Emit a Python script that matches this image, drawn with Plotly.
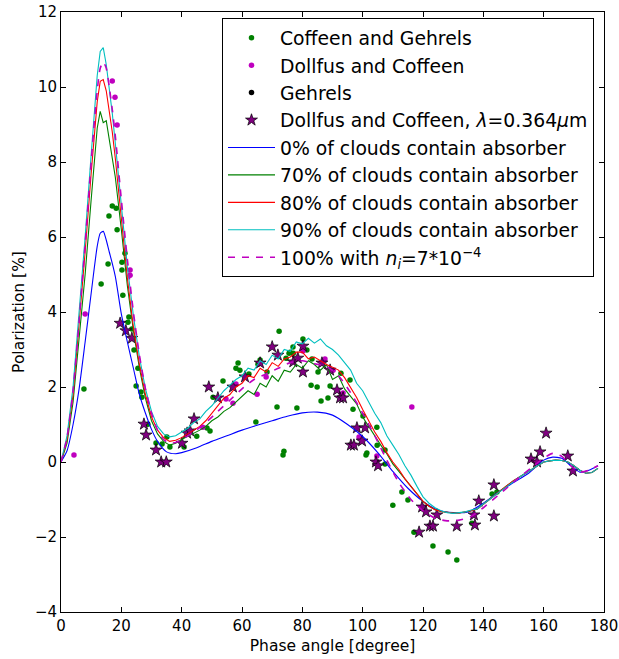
import plotly.graph_objects as go

# ---------------- observational data ----------------
cg_x = [7.6, 13.3, 15.6, 15.9, 17.0, 18.3, 18.6, 20.2, 20.2, 20.5,
        21.2, 22.2, 22.5, 23.5, 24.2, 24.9, 25.5, 26.5, 26.8, 28.8,
        31.5, 33.5, 35.1, 36.1, 40.8, 45.0, 48.4, 49.4, 50.4, 53.7,
        58.0, 58.7, 59.3, 62.3, 64.6, 65.3, 66.0, 68.3, 71.6, 72.3,
        73.6, 73.9, 74.6, 75.6, 75.9, 76.9, 77.0, 78.2, 80.2, 81.5,
        82.9, 83.2, 84.9, 85.2, 86.2, 88.5, 89.2, 92.8, 95.8, 96.8,
        100.1, 101.1, 101.4, 104.7, 104.8, 107.4, 107.4, 110.0, 113.0, 115.0,
        117.0, 123.3, 128.3, 131.2, 136.2, 142.9, 144.5]
cg_y = [1.95, 4.75, 5.28, 6.56, 6.83, 6.77, 6.19, 5.33, 5.12, 4.45,
        5.57, 3.73, 3.87, 3.55, 2.99, 2.03, 2.50, 1.87, 1.73, 1.01,
        0.51, 0.48, 0.67, 0.40, 0.40, 0.69, 0.91, 0.83, 1.73, 2.16,
        2.50, 2.64, 2.45, 2.35, 1.07, 2.61, 2.72, 2.40, 1.47, 3.49,
        0.19, 0.29, 2.77, 2.90, 2.93, 3.07, 2.90, 1.44, 3.28, 2.99,
        2.05, 2.75, 2.00, 2.40, 1.63, 1.71, 2.03, 2.37, 2.19, 1.41,
        1.23, 0.19, 0.24, 0.93, 0.45, 0.32, -0.05, -1.15, -0.80, -1.01,
        -1.87, -2.24, -2.40, -2.61, -1.63, -0.85, -0.80]

dc_x = [4.3, 8.0, 17.0, 17.9, 18.6, 22.9, 22.9, 47.0, 54.7, 57.0,
        58.0, 65.0, 68.0, 80.2, 87.5, 90.2, 93.5, 98.8, 104.7, 116.3]
dc_y = [0.19, 3.95, 10.16, 9.73, 8.99, 5.12, 4.98, 0.93, 1.68, 1.57,
        2.08, 1.81, 2.27, 2.96, 2.75, 2.45, 1.84, 0.67, 0.16, 1.47]

# Gehrels: no points visible in the picture (legend entry only)
ge_x = [None]
ge_y = [None]

uv_x = [19.6, 21.5, 23.5, 27.5, 28.2, 31.5, 33.2, 34.9, 40.1, 41.8,
        42.8, 44.1, 49.0, 52.0, 57.0, 61.0, 66.0, 70.0, 71.9, 77.0,
        78.5, 80.2, 80.2, 86.5, 89.2, 91.5, 92.5, 93.5, 96.1, 97.1,
        98.1, 99.8, 100.8, 104.4, 105.1, 118.7, 119.7, 121.0, 122.3, 123.3,
        124.6, 131.2, 136.9, 137.2, 138.5, 143.5, 143.5, 155.8, 157.8, 158.8,
        160.8, 168.0, 169.7]
uv_y = [3.70, 3.50, 3.30, 1.01, 0.72, 0.32, 0.00, 0.00, 0.50, 0.77,
        0.83, 1.15, 2.00, 1.71, 2.00, 2.27, 2.64, 3.07, 2.85, 2.67,
        2.77, 3.09, 2.40, 2.64, 2.45, 1.92, 1.71, 1.71, 0.45, 0.45,
        0.91, 0.56, 0.91, 0.00, -0.10, -1.87, -1.20, -1.33, -1.71, -1.71,
        -1.41, -1.71, -1.41, -1.68, -1.04, -0.61, -1.44, 0.08, 0.00, 0.27,
        0.77, 0.16, -0.24]

# ---------------- model curves ----------------
m_x = [0, 2, 4, 6, 8, 10, 11, 12, 13, 14, 15, 16, 17, 18, 20, 22, 24, 26, 28, 30,
       32, 34, 36, 38, 40, 42, 44, 46, 48, 50, 52, 54, 56, 58, 60, 62, 64, 66, 68, 70,
       72, 74, 76, 78, 80, 82, 84, 86, 88, 90, 92, 94, 96, 98, 100, 102, 104, 106, 108, 110,
       112, 114, 116, 118, 120, 122, 124, 126, 128, 130, 132, 134, 136, 138, 140, 142, 144, 146, 148, 150,
       152, 154, 156, 158, 160, 162, 164, 166, 168, 170, 172, 174, 176, 178]

tail = [-1.25, -1.12, -1.00, -0.87, -0.75, -0.62, -0.50, -0.40,
        -0.30, -0.20, -0.10, 0.00, 0.03, 0.05, 0.04, 0.00, -0.10, -0.22, -0.30, -0.28, -0.17, -0.10]

p70 = [0, 0.5, 1.6, 3.2, 5.0, 7.0, 8.0, 8.9, 9.35, 9.05, 9.1, 8.6, 8.1, 7.6, 6.2, 4.7, 3.5, 2.5, 1.7, 1.1,
       0.75, 0.55, 0.45, 0.5, 0.6, 0.68, 0.78, 0.85, 0.95, 1.1, 1.2, 1.35, 1.45, 1.6, 1.75, 1.9, 1.8, 2.1, 2.0, 2.3,
       2.15, 2.45, 2.4, 2.6, 2.5, 2.7, 2.6, 2.45, 2.6, 2.2, 2.3, 1.95, 1.75, 1.55, 1.2, 0.95, 0.68, 0.45, 0.22, -0.05,
       -0.25, -0.45, -0.65, -0.88, -1.05, -1.18, -1.27, -1.32, -1.35, -1.36, -1.36, -1.34, -1.3] + tail
p80 = [0, 0.6, 1.8, 3.6, 5.6, 7.7, 8.7, 9.6, 10.15, 10.2, 9.9, 9.4, 8.8, 8.1, 6.5, 4.9, 3.6, 2.6, 1.8, 1.2,
       0.85, 0.65, 0.55, 0.58, 0.65, 0.75, 0.85, 0.95, 1.1, 1.3, 1.5, 1.7, 1.8, 2.0, 2.1, 2.3, 2.25, 2.5, 2.4, 2.65,
       2.55, 2.75, 2.8, 2.93, 2.93, 2.75, 2.8, 2.7, 2.6, 2.53, 2.45, 2.25, 2.0, 1.72, 1.4, 1.1, 0.8, 0.55, 0.25, 0.0,
       -0.2, -0.45, -0.65, -0.85, -1.05, -1.18, -1.27, -1.32, -1.35, -1.36, -1.36, -1.34, -1.3] + tail
p90 = [0, 0.7, 2.0, 3.9, 6.0, 8.2, 9.3, 10.3, 10.95, 11.05, 10.6, 10.0, 9.3, 8.5, 6.8, 5.2, 3.9, 2.8, 1.95, 1.35,
       0.95, 0.75, 0.67, 0.7, 0.8, 0.9, 1.05, 1.15, 1.35, 1.5, 1.7, 1.9, 2.05, 2.2, 2.3, 2.5, 2.45, 2.7, 2.6, 2.85,
       2.75, 3.0, 2.95, 3.2, 3.15, 3.3, 3.17, 3.28, 3.1, 3.0, 2.85, 2.65, 2.45, 2.1, 1.9, 1.6, 1.3, 1.05, 0.7, 0.45,
       0.2, -0.1, -0.35, -0.65, -0.93, -1.1, -1.22, -1.3, -1.35, -1.37, -1.36, -1.33, -1.28] + tail

b_x = [0, 2, 4, 6, 8, 10, 12, 13, 14, 16, 18, 20, 22, 24, 26, 28, 30, 32, 35, 38,
       40, 45, 50, 55, 60, 65, 70, 75, 80, 85, 90, 95, 100, 105, 110, 115, 120, 125, 130, 135,
       140, 145, 150, 155, 160, 163, 166, 169, 172, 175, 178]
p0 = [0, 0.3, 1.0, 1.95, 3.2, 4.5, 5.75, 6.1, 6.15, 5.6, 4.95, 3.95, 3.2, 2.5, 1.8, 1.3, 0.87, 0.55, 0.27, 0.22,
      0.25, 0.38, 0.55, 0.7, 0.85, 0.98, 1.1, 1.22, 1.31, 1.33, 1.25, 1.0, 0.68, 0.25, -0.25, -0.7, -1.05, -1.28, -1.35, -1.33,
      -1.1, -0.8, -0.55, -0.3, 0.05, 0.13, 0.1, -0.1, -0.27, -0.22, -0.1]

d_x = [0, 2, 4, 6, 8, 10, 11, 12, 13, 14, 15, 16, 17, 18, 20, 22, 24, 26, 28, 30,
       32, 34, 36, 38, 40, 44, 48, 52, 56, 60, 64, 68, 72, 76, 80, 84, 88, 92, 96, 100,
       104, 108, 112, 116, 120, 124, 128, 132, 136, 140, 144, 148, 152, 156, 160, 163, 166, 169, 172, 175, 178]
p100 = [0, 0.65, 1.9, 3.75, 5.8, 8.0, 9.0, 9.9, 10.5, 10.67, 10.5, 10.0, 9.4, 8.7, 7.0, 5.4, 4.0, 2.85, 1.95, 1.3,
        0.85, 0.6, 0.5, 0.52, 0.6, 0.8, 1.05, 1.35, 1.65, 1.95, 2.2, 2.35, 2.5, 2.65, 2.7, 2.62, 2.55, 2.3, 1.85, 1.3,
        0.7, 0.05, -0.55, -1.0, -1.3, -1.5, -1.57, -1.55, -1.45, -1.22, -0.95, -0.68, -0.4, -0.15, 0.1, 0.23, 0.15, -0.1, -0.27, -0.22, -0.1]

FONT = "DejaVu Sans"

fig = go.Figure()
fig.add_trace(go.Scatter(x=cg_x, y=cg_y, mode="markers", name="Coffeen and Gehrels",
                         marker=dict(color="#008000", size=5.5, line=dict(width=0))))
fig.add_trace(go.Scatter(x=dc_x, y=dc_y, mode="markers", name="Dollfus and Coffeen",
                         marker=dict(color="#bf00bf", size=5.5, line=dict(width=0))))
fig.add_trace(go.Scatter(x=ge_x, y=ge_y, mode="markers", name="Gehrels",
                         marker=dict(color="black", size=5.5, line=dict(width=0))))
fig.add_trace(go.Scatter(x=uv_x, y=uv_y, mode="markers",
                         name="Dollfus and Coffeen, <i>λ</i>=0.364<i>μ</i>m",
                         marker=dict(color="#800080", size=9, symbol="star",
                                     line=dict(color="black", width=0.7))))
fig.add_trace(go.Scatter(x=b_x, y=p0, mode="lines", name="0% of clouds contain absorber",
                         line=dict(color="#0000ff", width=1.1, shape="spline", smoothing=0.6)))
fig.add_trace(go.Scatter(x=m_x, y=p70, mode="lines", name="70% of clouds contain absorber",
                         line=dict(color="#008000", width=1.1)))
fig.add_trace(go.Scatter(x=m_x, y=p80, mode="lines", name="80% of clouds contain absorber",
                         line=dict(color="#ff0000", width=1.1)))
fig.add_trace(go.Scatter(x=m_x, y=p90, mode="lines", name="90% of clouds contain absorber",
                         line=dict(color="#00bfbf", width=1.1)))
fig.add_trace(go.Scatter(x=d_x, y=p100, mode="lines",
                         name="100% with <i>n<sub>i</sub></i>=7*10<sup>−4</sup>",
                         line=dict(color="#bf00bf", width=1.6, dash="7px,7px", shape="spline", smoothing=0.6)))

for i, tr in enumerate(fig.data):
    tr.legendgroup = "g%d" % i

axis_common = dict(showline=True, linecolor="black", linewidth=1, mirror="ticks",
                   ticks="inside", ticklen=5, tickcolor="black", showgrid=False, zeroline=False,
                   automargin=False,
                   tickfont=dict(family=FONT, size=15, color="black"))

fig.update_layout(
    template="none",
    width=619, height=659,
    margin=dict(l=61, r=15, t=12, b=47, autoexpand=False),
    paper_bgcolor="white", plot_bgcolor="white",
    font=dict(family=FONT, color="black"),
    xaxis=dict(range=[0, 180], tickvals=list(range(0, 181, 20)),
               title=dict(text="Phase angle [degree]", font=dict(family=FONT, size=15.5), standoff=6),
               **axis_common),
    yaxis=dict(range=[-4, 12], tickvals=list(range(-4, 13, 2)),
               title=dict(text="Polarization [%]", font=dict(family=FONT, size=15.5), standoff=6),
               **axis_common),
    legend=dict(x=0.2965, y=0.99, xanchor="left", yanchor="top",
                bgcolor="white", bordercolor="black", borderwidth=1,
                font=dict(family=FONT, size=18.8, color="black"),
                itemwidth=47, tracegroupgap=3.5, traceorder="normal"),
    showlegend=True,
)

fig.write_html("out.html")
